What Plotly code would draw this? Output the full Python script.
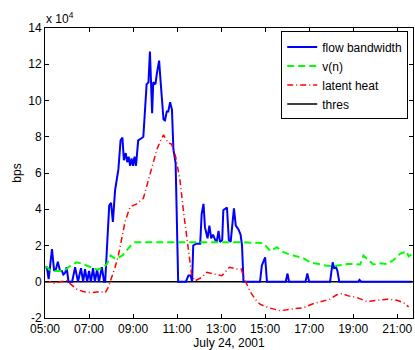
import plotly.graph_objects as go

DAY = "2001-07-24 "

# flow bandwidth (units of 1e4 bps)
bw_t = ["05:00","05:05","05:10","05:19","05:25","05:30","05:35","05:41","05:46","05:50","05:55","05:59",
        "06:04","06:14","06:22","06:30","06:38","06:44","06:49","06:55","07:00","07:05","07:11","07:16",
        "07:22","07:27","07:35","07:41","07:44","07:49","07:55","08:00","08:05","08:11","08:20","08:26",
        "08:31","08:35","08:40","08:44","08:48","08:52","08:56","09:00","09:04","09:08","09:14","09:22",
        "09:28","09:37","09:42","09:46","09:52","09:55","10:01","10:05","10:11","10:16","10:23","10:27",
        "10:32","10:36","10:41","10:46","10:50","10:56","11:03","11:24","11:31","11:37","11:41","11:44",
        "11:52","12:03","12:07","12:12","12:16","12:23","12:28","12:33","12:38","12:44","12:48","12:53",
        "12:57","13:03","13:06","13:16","13:21","13:26","13:35","13:40","13:47","13:53","13:57","14:01",
        "14:46","14:51","15:00","15:05","15:56","16:01","16:05","16:50","16:55","17:00","17:57","18:04",
        "18:08","18:13","18:17","18:22","19:14","19:17","19:22","21:40"]
bw_v = [0.8,0.8,0.15,1.8,0.6,0.7,1.1,0.6,0.6,0.4,0.5,0.8,
        0.0,0.0,0.8,0.0,0.75,0.0,0.7,0.0,0.6,0.0,0.75,0.0,
        0.7,0.0,0.8,0.0,0.0,2.0,4.2,4.35,3.3,5.05,6.2,7.8,
        7.95,6.7,7.1,6.6,6.9,6.4,6.8,6.4,6.9,6.4,7.8,7.9,
        8.0,10.9,11.0,12.7,9.3,11.0,10.9,11.5,12.2,10.8,8.95,8.9,
        9.4,9.4,9.9,9.5,7.3,6.55,0.0,0.0,0.35,0.35,0.0,2.0,
        2.1,2.1,3.75,4.3,3.0,2.4,3.1,2.4,2.6,2.3,2.2,2.8,
        2.2,2.3,3.95,4.1,2.3,2.2,4.05,3.1,2.9,2.6,2.0,0.0,
        0.0,0.9,1.35,0.0,0.0,0.45,0.0,0.0,0.45,0.0,0.0,1.07,
        0.75,0.8,0.6,0.0,0.0,0.1,0.0,0.0]

# v(n)
vn_t = ["05:00","05:06","05:16","05:33","05:52","06:10","06:26","06:39","06:51","07:05","07:23","07:41",
        "07:49","07:59","08:13","08:31","08:54","09:05","10:14","12:03","13:56","14:55","15:14","15:32",
        "15:50","16:08","16:26","16:44","17:03","17:21","17:44","18:06","18:25","18:43","19:05","19:19",
        "19:28","19:42","19:55","20:14","20:32","20:50","21:08","21:25","21:31","21:38"]
vn_v = [0.8,0.8,0.6,0.6,0.6,0.9,1.07,1.02,0.9,0.8,0.67,0.8,
        1.0,1.45,1.25,1.45,2.0,2.18,2.18,2.18,2.18,2.13,1.7,1.9,
        1.63,1.5,1.4,1.3,1.07,0.98,0.9,0.85,0.9,0.98,0.98,0.95,
        1.45,1.17,0.95,1.02,0.98,1.2,1.54,1.68,1.4,1.5]

# latent heat
lh_t = ["05:00","05:14","05:23","05:41","05:59","06:13","06:26","06:44","07:07","07:30","07:44","07:53",
        "08:02","08:11","08:20","08:29","08:38","08:52","09:10","09:28","09:37","09:51","10:05","10:14",
        "10:23","10:36","10:45","10:56","11:08","11:17","11:26","11:35","11:40","11:49","12:07","12:21",
        "12:39","13:02","13:23","13:43","13:55","14:03","14:14","14:19","14:33","14:46","15:09","15:41",
        "16:08","16:44","17:12","17:39","17:57","18:15","18:29","18:47","19:10","19:37","20:05","20:32",
        "20:59","21:17","21:31"]
lh_v = [0.0,0.0,-0.1,0.0,0.05,-0.2,-0.4,-0.54,-0.6,-0.54,-0.6,-0.28,
        0.24,0.8,1.45,2.46,3.3,4.13,4.3,4.6,5.24,6.17,7.3,7.74,
        8.1,7.65,7.6,6.9,5.6,3.95,2.46,1.17,0.33,0.05,0.24,0.52,
        0.43,0.33,0.8,0.7,0.7,0.17,-0.3,-0.54,-0.96,-1.24,-1.43,-1.6,
        -1.52,-1.43,-1.2,-1.05,-0.96,-0.72,-0.65,-0.78,-0.87,-1.09,-1.02,-0.96,
        -1.02,-1.15,-1.39]

thres_t = ["05:00", "21:43"]
thres_v = [0.0, 0.0]

x_ticks = ["05:00","07:00","09:00","11:00","13:00","15:00","17:00","19:00","21:00"]
y_ticks = [-2, 0, 2, 4, 6, 8, 10, 12, 14]

def ts(lst):
    return [DAY + t for t in lst]

FONT = "Liberation Sans, Arial, sans-serif"

fig = go.Figure()
fig.add_trace(go.Scatter(x=ts(thres_t), y=thres_v, mode="lines", name="thres",
                         line=dict(color="black", width=1.5), legendrank=4))
fig.add_trace(go.Scatter(x=ts(bw_t), y=bw_v, mode="lines", name="flow bandwidth",
                         line=dict(color="#0000ff", width=2), legendrank=1))
fig.add_trace(go.Scatter(x=ts(vn_t), y=vn_v, mode="lines", name="v(n)",
                         line=dict(color="#00ff00", width=2, dash="7px,4px"), legendrank=2))
fig.add_trace(go.Scatter(x=ts(lh_t), y=lh_v, mode="lines", name="latent heat",
                         line=dict(color="#ff0000", width=1.5, dash="6px,3px,1px,3px"), legendrank=3))

fig.update_layout(
    width=415, height=350,
    margin=dict(l=45, r=2, t=28, b=32),
    paper_bgcolor="white", plot_bgcolor="white",
    font=dict(family=FONT, size=12, color="black"),
    showlegend=True,
    legend=dict(x=0.987, y=0.988, xanchor="right", yanchor="top",
                bordercolor="black", borderwidth=1, bgcolor="white",
                font=dict(size=12), tracegroupgap=0, traceorder="normal"),
)
fig.update_xaxes(
    type="date",
    range=[DAY + "05:00", DAY + "21:43"],
    tickvals=ts(x_ticks), ticktext=x_ticks,
    ticks="inside", ticklen=4, tickcolor="black",
    showline=True, linecolor="black", linewidth=1, mirror="ticks",
    showgrid=False, zeroline=False,
    title=dict(text="July 24, 2001", standoff=1, font=dict(size=12)),
)
fig.update_yaxes(
    range=[-2, 14],
    tickvals=y_ticks, ticktext=[str(v) for v in y_ticks],
    ticks="inside", ticklen=4, tickcolor="black",
    showline=True, linecolor="black", linewidth=1, mirror="ticks",
    showgrid=False, zeroline=False,
    title=dict(text="bps", standoff=4, font=dict(size=12)),
)
fig.add_annotation(text="x 10<sup>4</sup>", xref="paper", yref="paper",
                   x=0, y=1, xanchor="left", yanchor="bottom", showarrow=False,
                   font=dict(size=12), xshift=-1, yshift=0)

fig.write_html("out.html", config={"displayModeBar": False},
               post_script="document.body.style.margin='0';document.body.style.overflow='hidden';")
